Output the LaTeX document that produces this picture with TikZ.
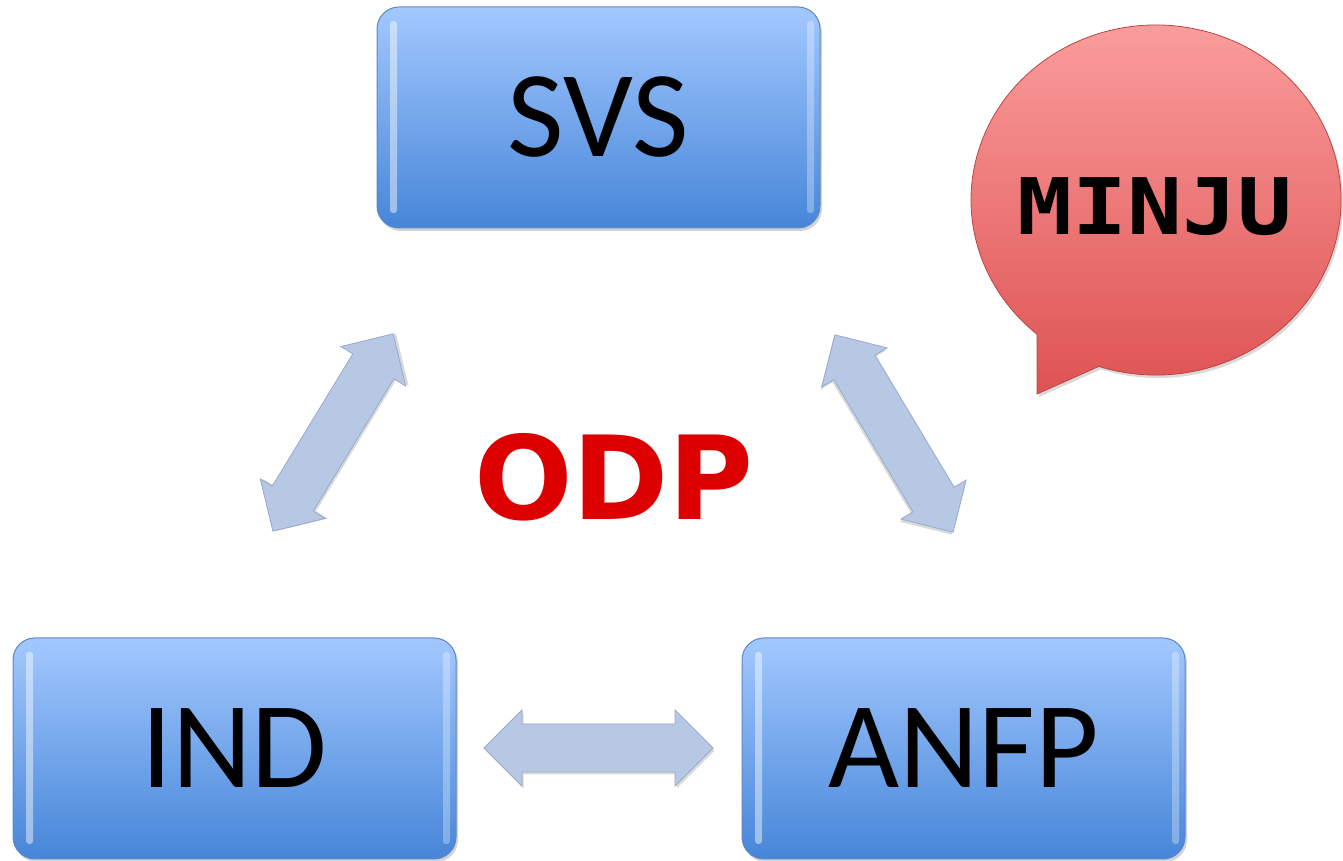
\documentclass[tikz,border=0pt]{standalone}
\usepackage{fontspec}
\setmainfont{Carlito}
\newfontfamily\odpfont{DejaVu Sans}
\newfontfamily\minjufont{DejaVu Sans Mono}
\usetikzlibrary{shadows,calc}
\definecolor{boxtop}{RGB}{163,200,255}
\definecolor{boxbot}{RGB}{70,134,216}
\definecolor{boxline}{RGB}{95,135,195}
\definecolor{arrfill}{RGB}{183,200,228}
\definecolor{arrline}{RGB}{150,170,205}
\definecolor{bubtop}{RGB}{252,160,160}
\definecolor{bubbot}{RGB}{222,82,82}
\definecolor{bubline}{RGB}{185,70,70}
\definecolor{odpred}{RGB}{220,0,0}
\tikzset{
  bluebox/.style={rectangle, rounded corners=22pt, minimum width=443pt, minimum height=221pt,
    inner sep=0pt, top color=boxtop, bottom color=boxbot, draw=boxline, line width=1pt,
    drop shadow={opacity=0.35, shadow xshift=2pt, shadow yshift=-3pt},
    font=\fontsize{123}{130}\selectfont, text=black,
    path picture={
      \fill[white, opacity=0.45, rounded corners=3pt]
        ([xshift=13pt,yshift=-14pt]path picture bounding box.north west) rectangle
        ([xshift=20pt,yshift=15pt]path picture bounding box.south west);
      \fill[white, opacity=0.3, rounded corners=3pt]
        ([xshift=-6pt,yshift=-14pt]path picture bounding box.north east) rectangle
        ([xshift=-13pt,yshift=15pt]path picture bounding box.south east);
    }},
  bubble/.style={top color=bubtop, bottom color=bubbot, draw=bubline, line width=0.8pt,
    drop shadow={opacity=0.3, shadow xshift=2pt, shadow yshift=-3pt}},
  minjutext/.style={font=\minjufont\bfseries\fontsize{78}{80}\selectfont, text=black},
  odptext/.style={font=\odpfont\bfseries\fontsize{116}{120}\selectfont, text=odpred},
  pics/dblarrow/.style={code={
    \pgfmathsetmacro\hl{#1/2}
    \fill[black, opacity=0.15, shift={(1.5,-2.5)}]
      ({-\hl},0) -- ({-\hl+38},38) -- ({-\hl+38},24) -- ({\hl-38},24) -- ({\hl-38},38) --
      ({\hl},0) -- ({\hl-38},-38) -- ({\hl-38},-24) -- ({-\hl+38},-24) -- ({-\hl+38},-38) -- cycle;
    \path[draw=arrline, fill=arrfill, line width=0.8pt, line join=miter]
      ({-\hl},0) -- ({-\hl+38},38) -- ({-\hl+38},24) -- ({\hl-38},24) -- ({\hl-38},38) --
      ({\hl},0) -- ({\hl-38},-38) -- ({\hl-38},-24) -- ({-\hl+38},-24) -- ({-\hl+38},-38) -- cycle;
  }}
}
\begin{document}
\begin{tikzpicture}[x=1pt,y=1pt]
\useasboundingbox (0,0) rectangle (1343,861);

% boxes
\node[bluebox] (svs) at (598.5,743.5) {SVS};
\node[bluebox] (ind) at (234.5,112.5) {IND};
\node[bluebox] (anfp) at (963.5,112.5) {ANFP};

% speech bubble
\coordinate (bc) at (1156,661);
\coordinate (tip) at (1037,467);
\path[bubble] (tip) -- ($(bc)+(252:185 and 175)$)
  arc[start angle=252, end angle=590, x radius=185, y radius=175] -- cycle;
\node[minjutext] (minju) at (1155,654) {\scalebox{1.17}[1]{MINJU}};

% centre label
\node[odptext] (odp) at (614,384) {ODP};

% block arrows
\coordinate (l1) at (273,330);
\coordinate (l2) at (393,527);
\coordinate (r1) at (835,526);
\coordinate (r2) at (953,329);
\coordinate (h1) at (484,113);
\coordinate (h2) at (713,113);
\path (l1) -- (l2) pic[pos=0.5, sloped] {dblarrow=231};
\path (r1) -- (r2) pic[pos=0.5, sloped] {dblarrow=230};
\path (h1) -- (h2) pic[pos=0.5, sloped] {dblarrow=229};
\end{tikzpicture}
\end{document}
